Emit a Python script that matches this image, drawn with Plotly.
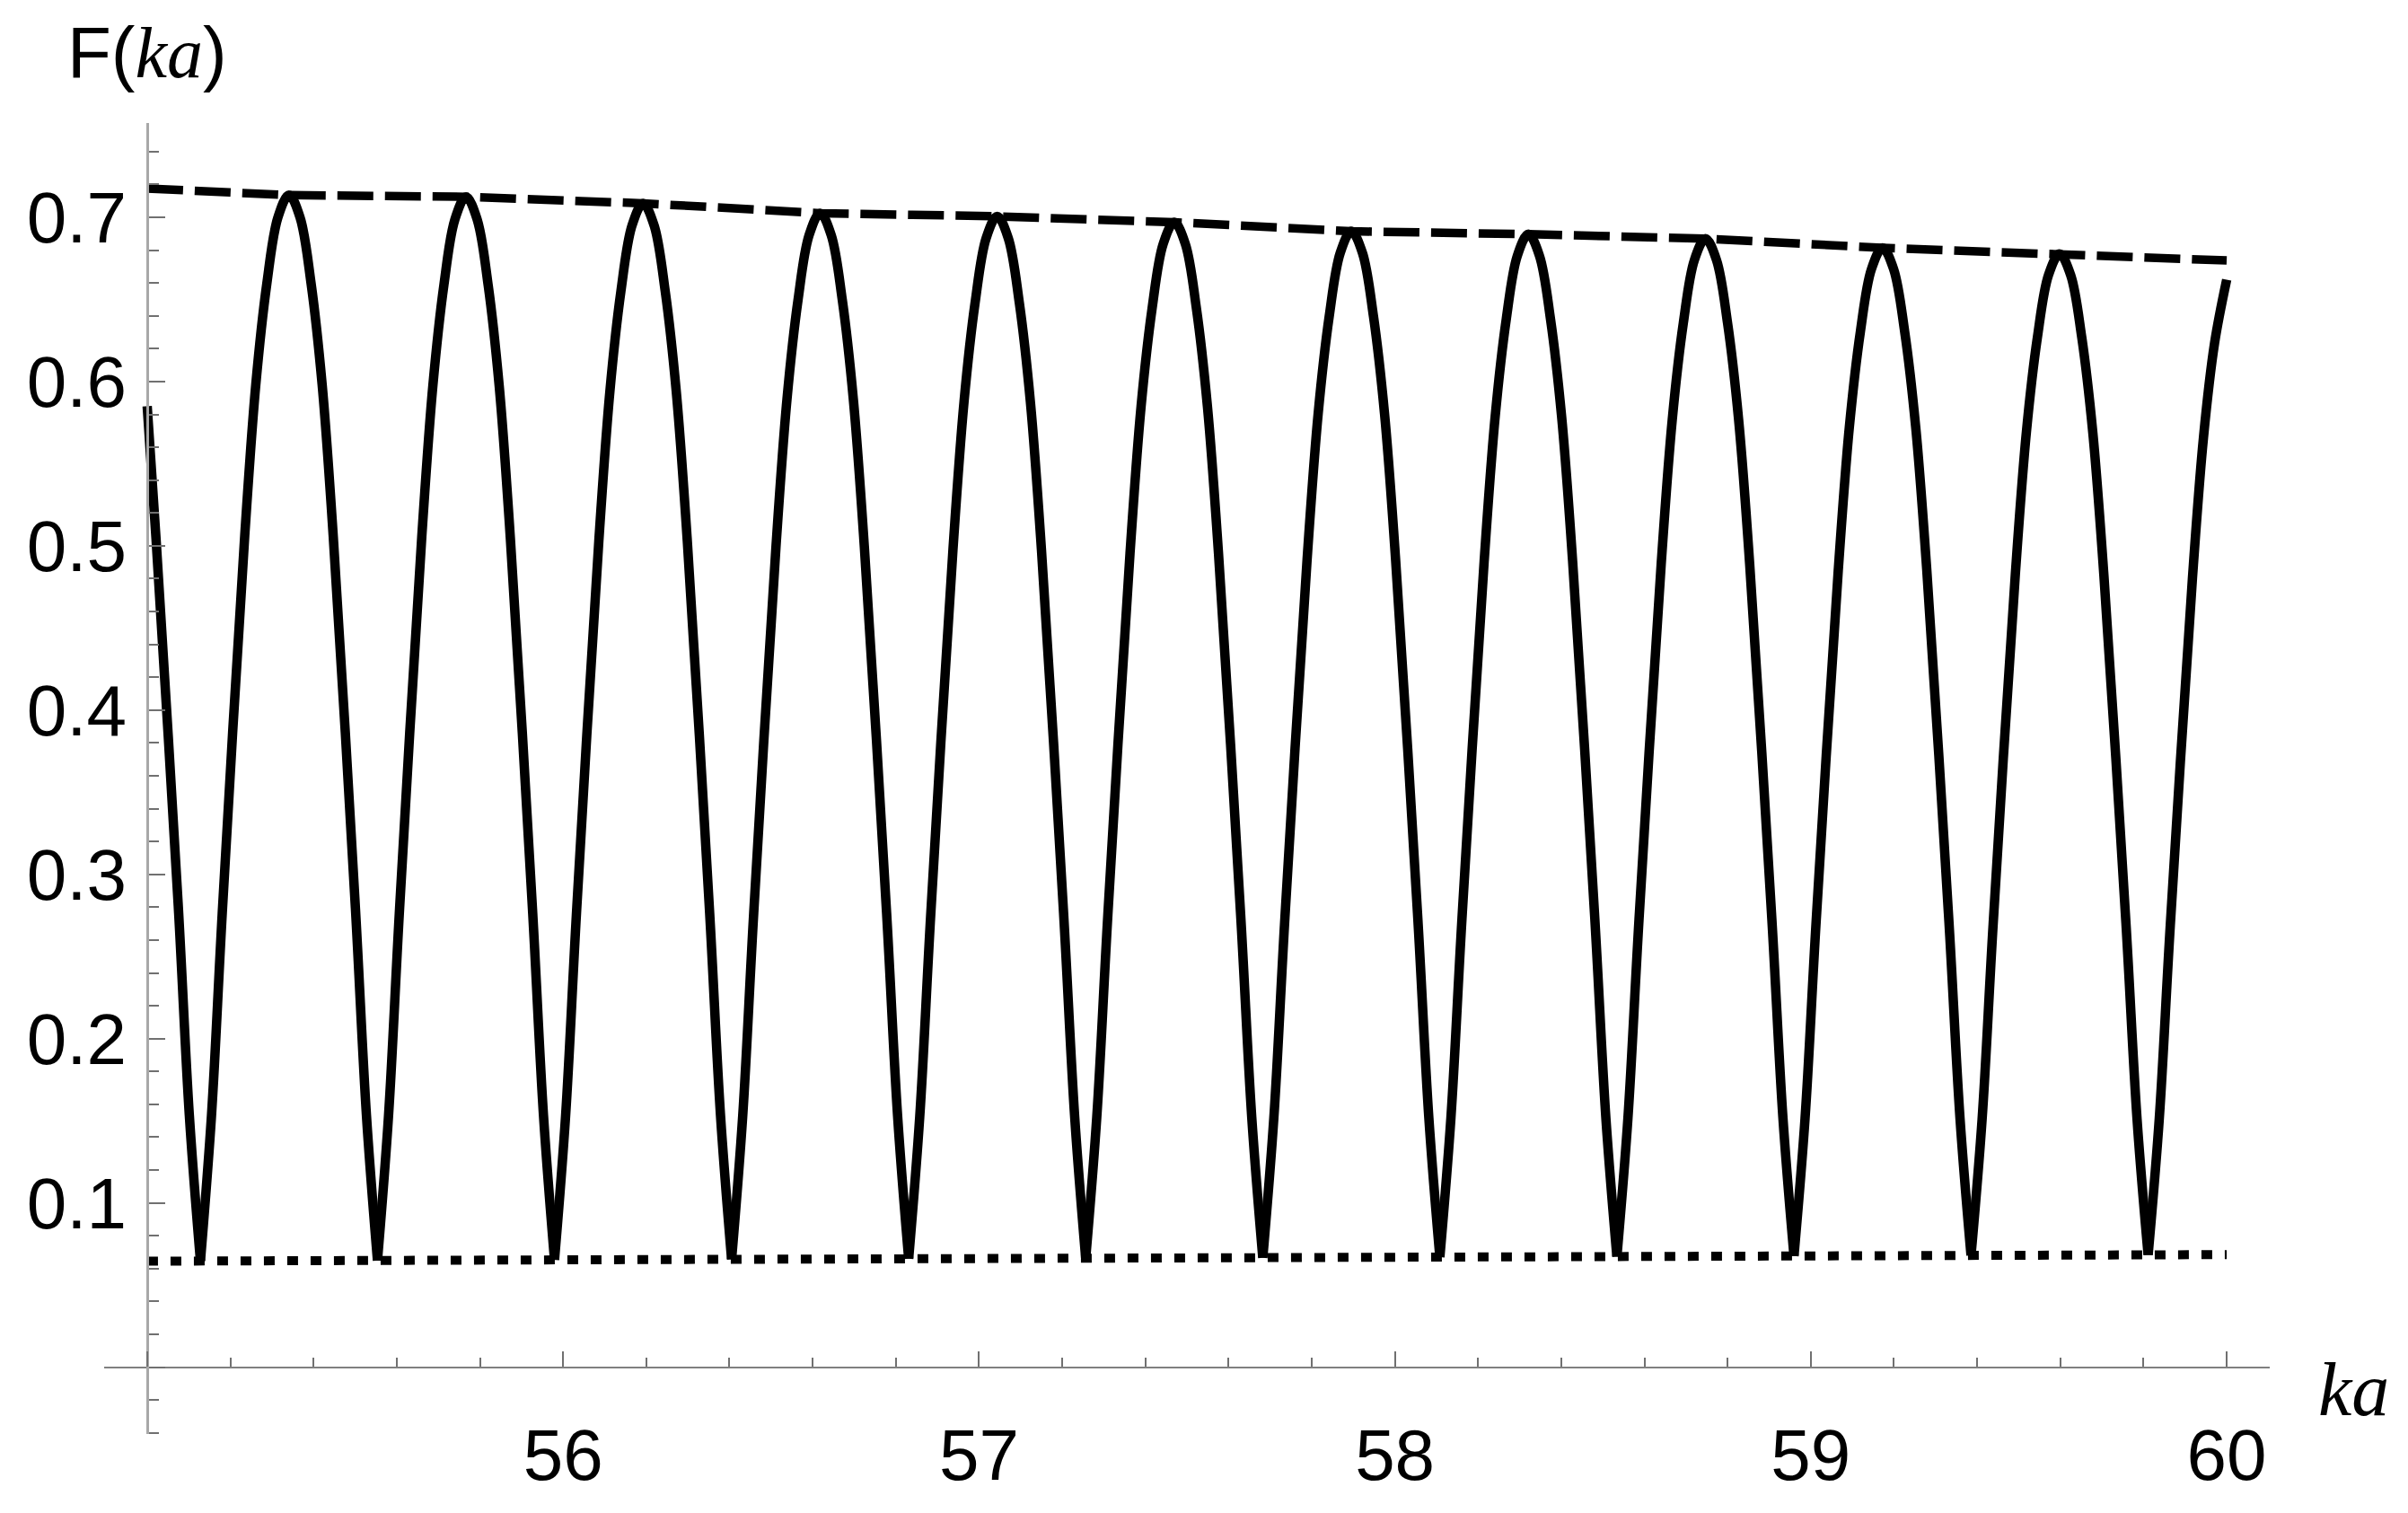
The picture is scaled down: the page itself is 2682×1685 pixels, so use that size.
import plotly.graph_objects as go

# ---- data ----
# solid curve, one list per hump (minimum -> peak -> minimum)
ka_start = [55.0, 55.0214, 55.0747, 55.1013, 55.1280]
f_start = [0.5850, 0.5037, 0.2808, 0.1534, 0.0646]

ka_arcs = [
    [55.1546, 55.1812, 55.2345, 55.2611, 55.2877, 55.3143, 55.3409, 55.3675, 55.3941, 55.4207, 55.4473, 55.5006, 55.5272, 55.5537],
    [55.5803, 55.6069, 55.6602, 55.6868, 55.7134, 55.7400, 55.7666, 55.7932, 55.8198, 55.8464, 55.8730, 55.9263, 55.9529, 55.9794],
    [56.0060, 56.0326, 56.0859, 56.1125, 56.1391, 56.1657, 56.1923, 56.2189, 56.2455, 56.2721, 56.2987, 56.3520, 56.3786, 56.4052],
    [56.4318, 56.4584, 56.5117, 56.5383, 56.5649, 56.5915, 56.6181, 56.6447, 56.6713, 56.6979, 56.7245, 56.7778, 56.8044, 56.8309],
    [56.8575, 56.8841, 56.9374, 56.9640, 56.9906, 57.0172, 57.0438, 57.0704, 57.0970, 57.1236, 57.1502, 57.2035, 57.2301, 57.2566],
    [57.2832, 57.3098, 57.3631, 57.3897, 57.4163, 57.4429, 57.4695, 57.4961, 57.5227, 57.5493, 57.5759, 57.6292, 57.6558, 57.6824],
    [57.7090, 57.7356, 57.7889, 57.8155, 57.8421, 57.8687, 57.8953, 57.9219, 57.9485, 57.9751, 58.0017, 58.0550, 58.0816, 58.1081],
    [58.1347, 58.1613, 58.2146, 58.2412, 58.2678, 58.2944, 58.3210, 58.3476, 58.3742, 58.4008, 58.4274, 58.4807, 58.5073, 58.5338],
    [58.5604, 58.5870, 58.6403, 58.6669, 58.6935, 58.7201, 58.7467, 58.7733, 58.7999, 58.8265, 58.8531, 58.9064, 58.9330, 58.9596],
    [58.9862, 59.0128, 59.0661, 59.0927, 59.1193, 59.1459, 59.1725, 59.1991, 59.2257, 59.2523, 59.2789, 59.3322, 59.3588, 59.3853],
    [59.4119, 59.4385, 59.4918, 59.5184, 59.5450, 59.5716, 59.5982, 59.6248, 59.6514, 59.6780, 59.7046, 59.7579, 59.7845, 59.8111],
]
f_arcs = [
    [0.1532, 0.2797, 0.5060, 0.5980, 0.6597, 0.6999, 0.7135, 0.6999, 0.6597, 0.5980, 0.5060, 0.2797, 0.1532, 0.0649],
    [0.1531, 0.2793, 0.5053, 0.5972, 0.6588, 0.6989, 0.7125, 0.6989, 0.6588, 0.5972, 0.5053, 0.2793, 0.1531, 0.0653],
    [0.1529, 0.2783, 0.5028, 0.5940, 0.6551, 0.6950, 0.7085, 0.6950, 0.6551, 0.5940, 0.5028, 0.2783, 0.1529, 0.0656],
    [0.1526, 0.2767, 0.4988, 0.5892, 0.6497, 0.6891, 0.7025, 0.6891, 0.6497, 0.5892, 0.4988, 0.2767, 0.1526, 0.0660],
    [0.1523, 0.2761, 0.4976, 0.5876, 0.6479, 0.6873, 0.7006, 0.6873, 0.6479, 0.5876, 0.4976, 0.2761, 0.1523, 0.0663],
    [0.1522, 0.2752, 0.4953, 0.5848, 0.6447, 0.6838, 0.6970, 0.6838, 0.6447, 0.5848, 0.4953, 0.2752, 0.1522, 0.0666],
    [0.1519, 0.2737, 0.4917, 0.5804, 0.6397, 0.6784, 0.6915, 0.6784, 0.6397, 0.5804, 0.4917, 0.2737, 0.1519, 0.0670],
    [0.1517, 0.2731, 0.4905, 0.5789, 0.6380, 0.6766, 0.6897, 0.6766, 0.6380, 0.5789, 0.4905, 0.2731, 0.1517, 0.0673],
    [0.1518, 0.2726, 0.4888, 0.5768, 0.6356, 0.6740, 0.6870, 0.6740, 0.6356, 0.5768, 0.4888, 0.2726, 0.1518, 0.0677],
    [0.1514, 0.2710, 0.4852, 0.5722, 0.6305, 0.6685, 0.6814, 0.6685, 0.6305, 0.5722, 0.4852, 0.2710, 0.1514, 0.0680],
    [0.1509, 0.2698, 0.4826, 0.5692, 0.6271, 0.6649, 0.6777, 0.6649, 0.6271, 0.5692, 0.4826, 0.2698, 0.1509, 0.0683],
]
ka_end = [59.8377, 59.8643, 59.9176, 59.9442, 59.9708, 60.0]
f_end = [0.1506, 0.2686, 0.4800, 0.5660, 0.6233, 0.6620]

# upper envelope (dashed)
ka_upper = [55.0, 55.3409, 55.7666, 56.1923, 56.6181, 57.0438, 57.4695, 57.8953, 58.3210, 58.7467, 59.1725, 59.5982, 60.0]
f_upper = [0.7175, 0.7135, 0.7125, 0.7085, 0.7025, 0.7006, 0.6970, 0.6915, 0.6897, 0.6870, 0.6814, 0.6777, 0.6737]

# lower envelope (dotted)
ka_lower = [55.0, 56.0, 57.0, 58.0, 59.0, 60.0]
f_lower = [0.0645, 0.0653, 0.0660, 0.0668, 0.0677, 0.0685]

x_tickvals = [55, 56, 57, 58, 59, 60]
x_ticktext = ["", "56", "57", "58", "59", "60"]
y_tickvals = [0.0, 0.1, 0.2, 0.3, 0.4, 0.5, 0.6, 0.7]
y_ticktext = ["", "0.1", "0.2", "0.3", "0.4", "0.5", "0.6", "0.7"]

# join humps into one trace; each hump is its own smooth piece (sharp V at minima)
ka_solid = list(ka_start)
f_solid = list(f_start)
prev_x, prev_y = ka_start[-1], f_start[-1]
for xs, ys in list(zip(ka_arcs, f_arcs)) + [(ka_end, f_end)]:
    ka_solid += [None, prev_x] + xs
    f_solid += [None, prev_y] + ys
    prev_x, prev_y = xs[-1], ys[-1]

# ---- figure ----
XR = [54.8965, 60.1035]
YR = [-0.0407, 0.7574]

fig = go.Figure()
fig.add_trace(go.Scatter(x=ka_upper, y=f_upper, mode="lines",
                         line=dict(color="black", width=9.5, dash="40px,13px"),
                         hoverinfo="skip", showlegend=False))
fig.add_trace(go.Scatter(x=ka_lower, y=f_lower, mode="lines",
                         line=dict(color="black", width=10, dash="12px,14px"),
                         hoverinfo="skip", showlegend=False))
fig.add_trace(go.Scatter(x=ka_solid, y=f_solid, mode="lines", connectgaps=False,
                         line=dict(color="black", width=10.5, shape="spline", smoothing=1.0),
                         hoverinfo="skip", showlegend=False))

tickfont = dict(family="Liberation Sans, Arial, sans-serif", size=80, color="black")

fig.update_layout(
    width=2666, height=1669,
    margin=dict(l=108, r=146, t=129, b=50, pad=0),
    paper_bgcolor="white", plot_bgcolor="white",
    showlegend=False,
    xaxis=dict(
        range=XR, anchor="free", position=(0 - YR[0]) / (YR[1] - YR[0]),
        showgrid=False, zeroline=False,
        showline=True, linecolor="#808080", linewidth=2,
        ticks="inside", ticklen=17, tickwidth=2, tickcolor="#707070",
        tickvals=x_tickvals, ticktext=x_ticktext, tickfont=tickfont,
        ticklabelstandoff=28,
        minor=dict(ticks="inside", ticklen=10, tickwidth=2, tickcolor="#707070",
                   dtick=0.2, tick0=55, showgrid=False),
    ),
    yaxis=dict(
        range=YR, anchor="free", position=(55 - XR[0]) / (XR[1] - XR[0]),
        showgrid=False, zeroline=False,
        showline=True, linecolor="#a8a8a8", linewidth=3,
        ticks="inside", ticklen=18, tickwidth=2, tickcolor="#707070",
        tickvals=y_tickvals, ticktext=y_ticktext, tickfont=tickfont,
        ticklabelstandoff=6,
        minor=dict(ticks="inside", ticklen=11, tickwidth=2, tickcolor="#707070",
                   dtick=0.02, tick0=0, showgrid=False),
    ),
    annotations=[
        dict(xref="paper", yref="paper", x=(164 - 116) / 2412, y=(1627 - 57) / 1490,
             xanchor="center", yanchor="middle", showarrow=False,
             text='F(<span style="font-family:Liberation Serif;font-style:italic">ka</span>)',
             font=dict(family="Liberation Sans, Arial, sans-serif", size=80, color="black")),
        dict(xref="paper", yref="paper", x=(2580 - 116) / 2412, y=(1627 - 1576) / 1490,
             xanchor="left", yanchor="middle", showarrow=False,
             text='<i>ka</i>',
             font=dict(family="Liberation Serif, serif", size=84, color="black")),
    ],
)

fig.write_html("out.html")
